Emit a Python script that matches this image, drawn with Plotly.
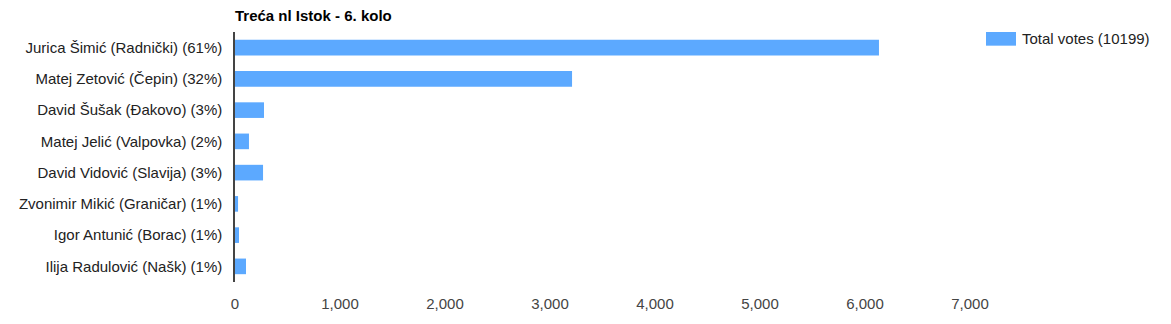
import plotly.graph_objects as go

categories = [
    "Jurica Šimić (Radnički) (61%)",
    "Matej Zetović (Čepin) (32%)",
    "David Šušak (Đakovo) (3%)",
    "Matej Jelić (Valpovka) (2%)",
    "David Vidović (Slavija) (3%)",
    "Zvonimir Mikić (Graničar) (1%)",
    "Igor Antunić (Borac) (1%)",
    "Ilija Radulović (Našk) (1%)",
]
votes = [6133, 3210, 276, 133, 267, 29, 38, 105]
series_name = "Total votes (10199)"
title_text = "Treća nl Istok - 6. kolo"
tick_vals = [0, 1000, 2000, 3000, 4000, 5000, 6000, 7000]
tick_text = ["0", "1,000", "2,000", "3,000", "4,000", "5,000", "6,000", "7,000"]

BAR = "#5ca9ff"
FONT = "Liberation Sans, Arial, sans-serif"
FS = 15

fig = go.Figure()
fig.add_trace(go.Bar(
    x=votes, y=categories, orientation="h",
    marker=dict(color=BAR, line=dict(width=0)),
    name=series_name, showlegend=False,
))

W, H = 1171, 324
L, R, T, B = 235, 201, 32, 36
pw = W - L - R
ph = H - T - B

def px_x(p):
    return (p - L) / pw

def px_y(p):
    return (H - B - p) / ph

fig.update_layout(
    width=W, height=H,
    margin=dict(l=L, r=R, t=T, b=B),
    paper_bgcolor="white", plot_bgcolor="white",
    bargap=0.5,
    font=dict(family=FONT, size=FS, color="#222"),
    xaxis=dict(range=[0, 7000], tickvals=tick_vals, ticktext=tick_text,
               showgrid=False, zeroline=False, showline=False,
               ticks="outside", ticklen=8, tickcolor="rgba(0,0,0,0)",
               tickfont=dict(color="#444", size=FS, family=FONT), fixedrange=True),
    yaxis=dict(autorange="reversed", showgrid=False, zeroline=False,
               showline=True, linecolor="#444", linewidth=1.5,
               ticks="outside", ticklen=8, tickcolor="rgba(0,0,0,0)",
               tickfont=dict(color="#222", size=FS, family=FONT)),
    shapes=[dict(type="rect", xref="paper", yref="paper",
                 x0=px_x(986), x1=px_x(1016), y0=px_y(46), y1=px_y(32),
                 fillcolor=BAR, line=dict(width=0))],
    annotations=[
        dict(text=series_name, xref="paper", yref="paper",
             x=px_x(1020), y=px_y(39), xanchor="left", yanchor="middle",
             showarrow=False, font=dict(family=FONT, size=FS, color="#222")),
        dict(text="<b>" + title_text + "</b>", xref="paper", yref="paper",
             x=px_x(233), y=px_y(15), xanchor="left", yanchor="middle",
             showarrow=False, font=dict(family=FONT, size=FS, color="#000")),
    ],
)

fig.write_html("out.html")
